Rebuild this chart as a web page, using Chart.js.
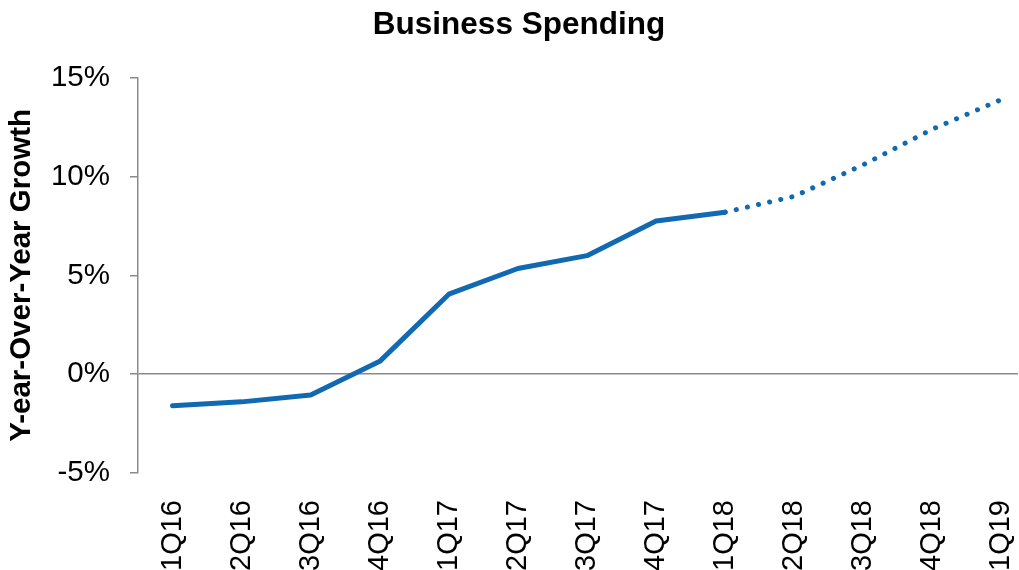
<!DOCTYPE html>
<html>
<head>
<meta charset="utf-8">
<script src="https://cdn.jsdelivr.net/npm/chart.js@4.4.1/dist/chart.umd.min.js"></script>
<style>
  html, body { margin: 0; padding: 0; background: #fff; }
  #wrap { width: 1019px; height: 570px; position: relative; }
</style>
</head>
<body>
<div id="wrap"><canvas id="c" width="1019" height="570"></canvas></div>
<script>
const categories = ['1Q16','2Q16','3Q16','4Q16','1Q17','2Q17','3Q17','4Q17','1Q18','2Q18','3Q18','4Q18','1Q19'];
const actualValues = [-1.6, -1.4, -1.05, 0.65, 4.05, 5.35, 6.0, 7.75, 8.2];
const projectedValues = [8.2, 9.0, 10.6, 12.4, 13.9];
const projectedStart = 8;
const yTicks = [-5, 0, 5, 10, 15];

const blue = '#1169b1';
const gray = '#8a8a8a';

const actualData = actualValues.map((v, i) => ({ x: i, y: v }));
const projectedData = projectedValues.map((v, i) => ({ x: projectedStart + i, y: v }));

new Chart(document.getElementById('c'), {
  type: 'line',
  data: {
    datasets: [
      { data: actualData, borderColor: blue, borderWidth: 5, pointRadius: 0, borderCapStyle: 'round', borderJoinStyle: 'round', tension: 0 },
      { data: projectedData, borderColor: blue, borderWidth: 5, pointRadius: 0, borderDash: [0.1, 11.3], borderCapStyle: 'round', tension: 0 }
    ]
  },
  options: {
    responsive: false,
    animation: false,
    layout: { padding: { left: 20, right: 1, top: 0, bottom: 0 } },
    plugins: {
      legend: { display: false },
      tooltip: { enabled: false },
      title: {
        display: true,
        text: 'Business Spending',
        color: '#000',
        font: { family: 'Liberation Sans, Arial, sans-serif', size: 31.5, weight: 'bold', lineHeight: 1.2 },
        padding: { top: 6, bottom: 34 }
      }
    },
    scales: {
      x: {
        type: 'linear',
        min: -0.5,
        max: 12.24,
        afterBuildTicks: (s) => { s.ticks = categories.map((c, i) => ({ value: i })); },
        afterFit: (s) => { s.height = 97; s.paddingLeft = 0; s.paddingRight = 0; },
        grid: { display: false },
        border: { display: false },
        ticks: {
          autoSkip: false,
          minRotation: 90,
          maxRotation: 90,
          padding: 19,
          color: '#000',
          font: { family: 'Liberation Sans, Arial, sans-serif', size: 29 },
          callback: (v) => categories[v]
        }
      },
      y: {
        min: -5,
        max: 15,
        afterBuildTicks: (s) => { s.ticks = yTicks.map(v => ({ value: v })); },
        afterFit: (s) => { s.width = 118; },
        grid: {
          color: (ctx) => (ctx.tick && ctx.tick.value === 0) ? gray : 'rgba(0,0,0,0)',
          lineWidth: 1.5,
          drawTicks: true,
          tickLength: 8,
          tickColor: gray,
          tickWidth: 1.5
        },
        border: { display: true, color: gray, width: 1.5 },
        ticks: {
          padding: 20,
          color: '#000',
          font: { family: 'Liberation Sans, Arial, sans-serif', size: 29.5 },
          callback: (v) => v + '%'
        },
        title: {
          display: true,
          text: 'Y-ear-Over-Year Growth',
          color: '#000',
          font: { family: 'Liberation Sans, Arial, sans-serif', size: 29.5, weight: 'bold', lineHeight: 1.2 },
          padding: { top: -15.5, bottom: 0 }
        }
      }
    }
  }
});
</script>
</body>
</html>
